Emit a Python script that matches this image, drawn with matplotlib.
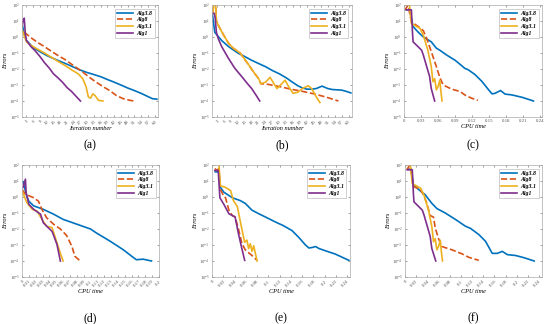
import numpy as np
import matplotlib.pyplot as plt

# ---- data (errors vs iteration / CPU time) ----
LABELS = ['Alg3.8', 'Alg8', 'Alg3.1', 'Alg1']
COLORS = ['#0072BD', '#D95319', '#EDB120', '#7E2F8E']
STYLES = ['-', '--', '-', '-']

# (a) iteration number
A_ALG38_X = [1, 2, 3, 6, 9, 12, 15, 18, 21, 24, 27, 30, 33, 36, 39, 42, 45, 48, 51, 54, 57, 59, 61]
A_ALG38_Y = [7, 1.5, 0.6, 0.22, 0.12, 0.07, 0.045, 0.03, 0.02, 0.013, 0.0085, 0.006, 0.0045, 0.0033,
             0.0022, 0.0015, 0.001, 0.00065, 0.00045, 0.0003, 0.00019, 0.00014, 0.00013]
A_ALG8_X = [2, 5, 8, 11, 14, 17, 20, 24, 28, 31, 34, 37, 40, 43, 46, 49, 51]
A_ALG8_Y = [2, 0.9, 0.45, 0.25, 0.13, 0.07, 0.04, 0.016, 0.0065, 0.003, 0.0015, 0.0008, 0.00045,
            0.00022, 0.00014, 0.00011, 0.0001]
A_ALG31_X = [1, 2, 3, 5, 8, 11, 14, 17, 20, 23, 26, 28, 29.5, 30.5, 31.5, 32.5, 33.5, 35, 37]
A_ALG31_Y = [3, 1.2, 0.5, 0.3, 0.17, 0.1, 0.055, 0.03, 0.017, 0.009, 0.005, 0.0025, 0.0008, 0.00018,
             0.00015, 0.00028, 0.00022, 0.00011, 0.0001]
A_ALG1_X = [1, 1.5, 2, 2.5, 3, 5, 7, 9, 11, 13, 15, 17, 19, 21, 23, 25, 27]
A_ALG1_Y = [4, 12, 15, 1.5, 0.6, 0.25, 0.13, 0.06, 0.025, 0.012, 0.005, 0.0028, 0.0015, 0.0007,
            0.0004, 0.0002, 0.0001]

# (b) iteration number
B_ALG38_X = [1, 2, 3, 5, 8, 12, 15, 18, 21, 24, 27, 30, 33, 36, 38, 40, 42, 44, 46, 48.5, 51, 53, 55,
             57, 59, 61]
B_ALG38_Y = [25, 2, 1.3, 0.6, 0.25, 0.1, 0.06, 0.035, 0.022, 0.014, 0.008, 0.005, 0.0028, 0.0014,
             0.0009, 0.00065, 0.00055, 0.00055, 0.0006, 0.00085, 0.0006, 0.00052, 0.0005, 0.00048,
             0.0004, 0.00032]
B_ALG8_X = [1, 1.8, 2.3, 2.7, 4, 6, 8, 10, 13, 16.5, 19, 21, 22, 25, 30, 35, 40, 45, 50, 55.6]
B_ALG8_Y = [30, 150, 150, 10, 4, 1.2, 0.4, 0.2, 0.1, 0.02, 0.006, 0.0025, 0.0012, 0.0011, 0.0008,
            0.00055, 0.0004, 0.00028, 0.00018, 0.0001]
B_ALG31_X = [1, 1.8, 2.3, 2.7, 4, 6, 8, 10, 13, 16.5, 19, 21, 22, 24, 26, 28, 29, 31, 32.5, 34, 36,
             38, 40, 42.5, 44, 46, 47.6]
B_ALG31_Y = [30, 150, 150, 10, 4, 1.2, 0.4, 0.2, 0.1, 0.02, 0.006, 0.0025, 0.0012, 0.0015, 0.003,
             0.001, 0.0006, 0.0012, 0.002, 0.0008, 0.0003, 0.00035, 0.0006, 0.0009, 0.0006, 0.00018,
             0.00008]
B_ALG1_X = [1, 1.8, 2.2, 2.7, 3.5, 5, 7.8, 10.7, 13.6, 16, 18, 20, 21.5]
B_ALG1_Y = [30, 30, 15, 2, 0.8, 0.25, 0.05, 0.011, 0.0035, 0.0013, 0.0006, 0.00022, 0.0001]

# (c) CPU time
C_ALG38_X = [0.004, 0.01, 0.016, 0.025, 0.034, 0.048, 0.057, 0.063, 0.075, 0.09, 0.1, 0.107, 0.113,
             0.125, 0.137, 0.149, 0.155, 0.16, 0.17, 0.178, 0.19, 0.208, 0.228]
C_ALG38_Y = [50, 50, 4.5, 2, 1, 0.5, 0.2, 0.15, 0.075, 0.035, 0.018, 0.011, 0.009, 0.0045, 0.0017,
             0.0005, 0.00028, 0.0003, 0.00045, 0.00027, 0.00024, 0.00017, 0.0001]
C_ALG8_X = [0.002, 0.007, 0.013, 0.025, 0.034, 0.04, 0.045, 0.051, 0.057, 0.063, 0.069, 0.084, 0.099,
            0.107, 0.119, 0.13]
C_ALG8_Y = [50, 100, 9, 4.5, 2.5, 0.8, 0.25, 0.06, 0.014, 0.003, 0.001, 0.00055, 0.00039, 0.00024,
            0.00015, 0.00011]
C_ALG31_X = [0.004, 0.009, 0.013, 0.028, 0.034, 0.042, 0.048, 0.051, 0.054, 0.057, 0.06, 0.063,
             0.065, 0.067]
C_ALG31_Y = [100, 150, 7, 3.5, 1.3, 0.15, 0.014, 0.0016, 0.0025, 0.0005, 0.0008, 0.002, 0.0004, 0.0001]
C_ALG1_X = [0.004, 0.013, 0.015, 0.016, 0.031, 0.034, 0.04, 0.045, 0.048, 0.054]
C_ALG1_Y = [50, 50, 1.7, 0.5, 0.15, 0.075, 0.014, 0.0035, 0.0006, 0.0001]

# (d) CPU time
D_ALG38_X = [0.0015, 0.007, 0.01, 0.017, 0.031, 0.046, 0.06, 0.08, 0.1, 0.109, 0.128, 0.148, 0.16,
             0.167, 0.177, 0.189]
D_ALG38_Y = [9, 1.1, 0.55, 0.28, 0.17, 0.085, 0.04, 0.02, 0.01, 0.0055, 0.0018, 0.0005, 0.0002,
             0.00012, 0.00013, 0.0001]
D_ALG8_X = [0, 0.005, 0.017, 0.024, 0.029, 0.036, 0.046, 0.056, 0.065, 0.073, 0.077, 0.085]
D_ALG8_Y = [3, 1.5, 0.9, 0.55, 0.17, 0.05, 0.02, 0.01, 0.004, 0.0008, 0.0002, 0.0001]
D_ALG31_X = [0, 0.007, 0.015, 0.022, 0.031, 0.036, 0.044, 0.048, 0.056, 0.06]
D_ALG31_Y = [2.5, 0.45, 0.17, 0.13, 0.03, 0.015, 0.012, 0.0035, 0.0003, 0.0001]
D_ALG1_X = [0.0015, 0.005, 0.006, 0.01, 0.017, 0.027, 0.031, 0.036, 0.044, 0.051, 0.056]
D_ALG1_Y = [4, 13, 1.9, 0.35, 0.17, 0.085, 0.025, 0.015, 0.007, 0.0011, 0.0001]

# (e) CPU time
E_ALG38_X = [0.006, 0.012, 0.015, 0.021, 0.036, 0.05, 0.059, 0.071, 0.083, 0.095, 0.113, 0.127,
             0.142, 0.154, 0.166, 0.172, 0.178, 0.184, 0.19, 0.201, 0.219, 0.243]
E_ALG38_Y = [37, 37, 4, 2, 0.9, 0.6, 0.4, 0.15, 0.09, 0.056, 0.027, 0.016, 0.008, 0.003, 0.001,
             0.00065, 0.0007, 0.0008, 0.0006, 0.00044, 0.00027, 0.00011]
E_ALG8_X = [0.005, 0.009, 0.012, 0.015, 0.021, 0.024, 0.03, 0.036, 0.041, 0.047, 0.053, 0.059,
            0.071, 0.08]
E_ALG8_Y = [60, 45, 60, 3, 1.1, 0.9, 0.15, 0.07, 0.056, 0.01, 0.0013, 0.0005, 0.00022, 0.00011]
E_ALG31_X = [0.005, 0.009, 0.012, 0.015, 0.024, 0.033, 0.038, 0.045, 0.053, 0.058, 0.062, 0.065,
             0.068, 0.071, 0.074, 0.077, 0.08]
E_ALG31_Y = [100, 150, 150, 5, 4, 2.5, 0.6, 0.25, 0.01, 0.0015, 0.002, 0.0006, 0.0012, 0.0004,
             0.0009, 0.0003, 0.0001]
E_ALG1_X = [0.005, 0.011, 0.014, 0.021, 0.03, 0.041, 0.047, 0.053, 0.058]
E_ALG1_Y = [45, 45, 0.9, 0.35, 0.09, 0.056, 0.005, 0.0006, 0.00011]

# (f) CPU time
F_ALG38_X = [0.006, 0.011, 0.015, 0.024, 0.036, 0.048, 0.057, 0.072, 0.09, 0.108, 0.117, 0.132,
             0.144, 0.156, 0.165, 0.174, 0.183, 0.198, 0.213, 0.231]
F_ALG38_Y = [55, 55, 6, 3, 1.4, 0.4, 0.19, 0.1, 0.04, 0.015, 0.011, 0.0045, 0.0017, 0.0003, 0.0003,
             0.0004, 0.00025, 0.00022, 0.00016, 0.0001]
F_ALG8_X = [0.003, 0.009, 0.015, 0.027, 0.033, 0.039, 0.045, 0.051, 0.054, 0.06, 0.066, 0.084, 0.102,
            0.114, 0.132]
F_ALG8_Y = [50, 100, 4.5, 3, 1.4, 0.4, 0.07, 0.055, 0.012, 0.0025, 0.0008, 0.0005, 0.00028, 0.00017,
            0.00011]
F_ALG31_X = [0.004, 0.009, 0.013, 0.028, 0.034, 0.042, 0.048, 0.051, 0.054, 0.057, 0.06, 0.063,
             0.065, 0.067]
F_ALG31_Y = [100, 150, 7, 3.5, 1.3, 0.15, 0.014, 0.0016, 0.0025, 0.0005, 0.0008, 0.002, 0.0004, 0.0001]
F_ALG1_X = [0.004, 0.013, 0.015, 0.016, 0.031, 0.034, 0.04, 0.045, 0.048, 0.055]
F_ALG1_Y = [50, 50, 1.7, 0.5, 0.15, 0.075, 0.014, 0.0035, 0.0006, 0.0001]

ITER_TICKS = list(range(3, 61, 3))
PANELS = [
    ('(a)', [(A_ALG38_X, A_ALG38_Y), (A_ALG8_X, A_ALG8_Y), (A_ALG31_X, A_ALG31_Y), (A_ALG1_X, A_ALG1_Y)],
     'Iteration number', (1, 61.5), ITER_TICKS, None, 45),
    ('(b)', [(B_ALG38_X, B_ALG38_Y), (B_ALG8_X, B_ALG8_Y), (B_ALG31_X, B_ALG31_Y), (B_ALG1_X, B_ALG1_Y)],
     'Iteration number', (0.8, 61.5), ITER_TICKS, None, 45),
    ('(c)', [(C_ALG38_X, C_ALG38_Y), (C_ALG8_X, C_ALG8_Y), (C_ALG31_X, C_ALG31_Y), (C_ALG1_X, C_ALG1_Y)],
     'CPU time', (0, 0.243), np.arange(0, 0.2401, 0.03), ['0', '0.03', '0.06', '0.09', '0.12',
                                                            '0.15', '0.18', '0.21', '0.24'], 0),
    ('(d)', [(D_ALG38_X, D_ALG38_Y), (D_ALG8_X, D_ALG8_Y), (D_ALG31_X, D_ALG31_Y), (D_ALG1_X, D_ALG1_Y)],
     'CPU time', (0, 0.2), np.arange(0, 0.2001, 0.01), None, 45),
    ('(e)', [(E_ALG38_X, E_ALG38_Y), (E_ALG8_X, E_ALG8_Y), (E_ALG31_X, E_ALG31_Y), (E_ALG1_X, E_ALG1_Y)],
     'CPU time', (0, 0.245), np.arange(0, 0.2401, 0.02), None, 45),
    ('(f)', [(F_ALG38_X, F_ALG38_Y), (F_ALG8_X, F_ALG8_Y), (F_ALG31_X, F_ALG31_Y), (F_ALG1_X, F_ALG1_Y)],
     'CPU time', (0, 0.245), np.arange(0, 0.2401, 0.02), None, 45),
]

# axes rectangles in pixels: left, right, top, bottom (figure 550x324)
BOXES = [(22, 158, 5, 117), (212, 352, 5, 117), (404, 542, 5, 117),
         (22, 159, 165, 277), (212, 350, 165, 277), (405, 542, 165, 277)]
LETTER_Y = [145, 145, 145, 318, 318, 318]

W, H = 550, 324
plt.rcParams['font.family'] = ['Liberation Serif', 'DejaVu Serif']
plt.rcParams['mathtext.fontset'] = 'stix'

fig = plt.figure(figsize=(W / 100, H / 100), dpi=100)

for (letter, series, xlabel, xlim, xticks, xticklabels, rot), (l, r, t, b), ly in zip(PANELS, BOXES, LETTER_Y):
    ax = fig.add_axes([l / W, 1 - b / H, (r - l) / W, (b - t) / H])
    for (x, y), lab, c, ls in zip(series, LABELS, COLORS, STYLES):
        ax.plot(x, y, ls, color=c, lw=1.2, label=lab)
    ax.set_yscale('log')
    ax.set_ylim(1e-5, 1e2)
    ax.set_xlim(*xlim)
    ax.set_yticks([10.0 ** k for k in range(-5, 3)])
    ax.minorticks_off()
    ax.set_xticks(xticks)
    if xticklabels is None:
        xticklabels = ['%g' % v for v in xticks]
    if rot:
        ax.set_xticklabels(xticklabels, rotation=rot, ha='right', rotation_mode='anchor')
    else:
        ax.set_xticklabels(xticklabels)
    ax.tick_params(direction='in', length=1.5, width=0.4, labelsize=3.5, pad=1.5,
                   top=True, right=True, colors='#555555', labelcolor='#555555')
    for s in ax.spines.values():
        s.set_linewidth(0.5)
        s.set_color('#aaaaaa')
    ax.set_ylabel('Errors', fontsize=4.5, style='italic', labelpad=1)
    ax.set_xlabel(xlabel, fontsize=4.5, style='italic', labelpad=1 if not rot else 0.5)
    leg = ax.legend(loc='upper right', handlelength=2.6, borderpad=0.4,
                    labelspacing=0.25, handletextpad=0.6, borderaxespad=0.6, fancybox=False,
                    prop={'style': 'italic', 'weight': 'bold', 'size': 4.2})
    leg.get_frame().set_linewidth(0.4)
    leg.get_frame().set_edgecolor('#999999')
    fig.text((l + r) / 2 / W, 1 - ly / H, letter, ha='center', va='center', fontsize=8.5)

fig.savefig('out.png', dpi=100)
